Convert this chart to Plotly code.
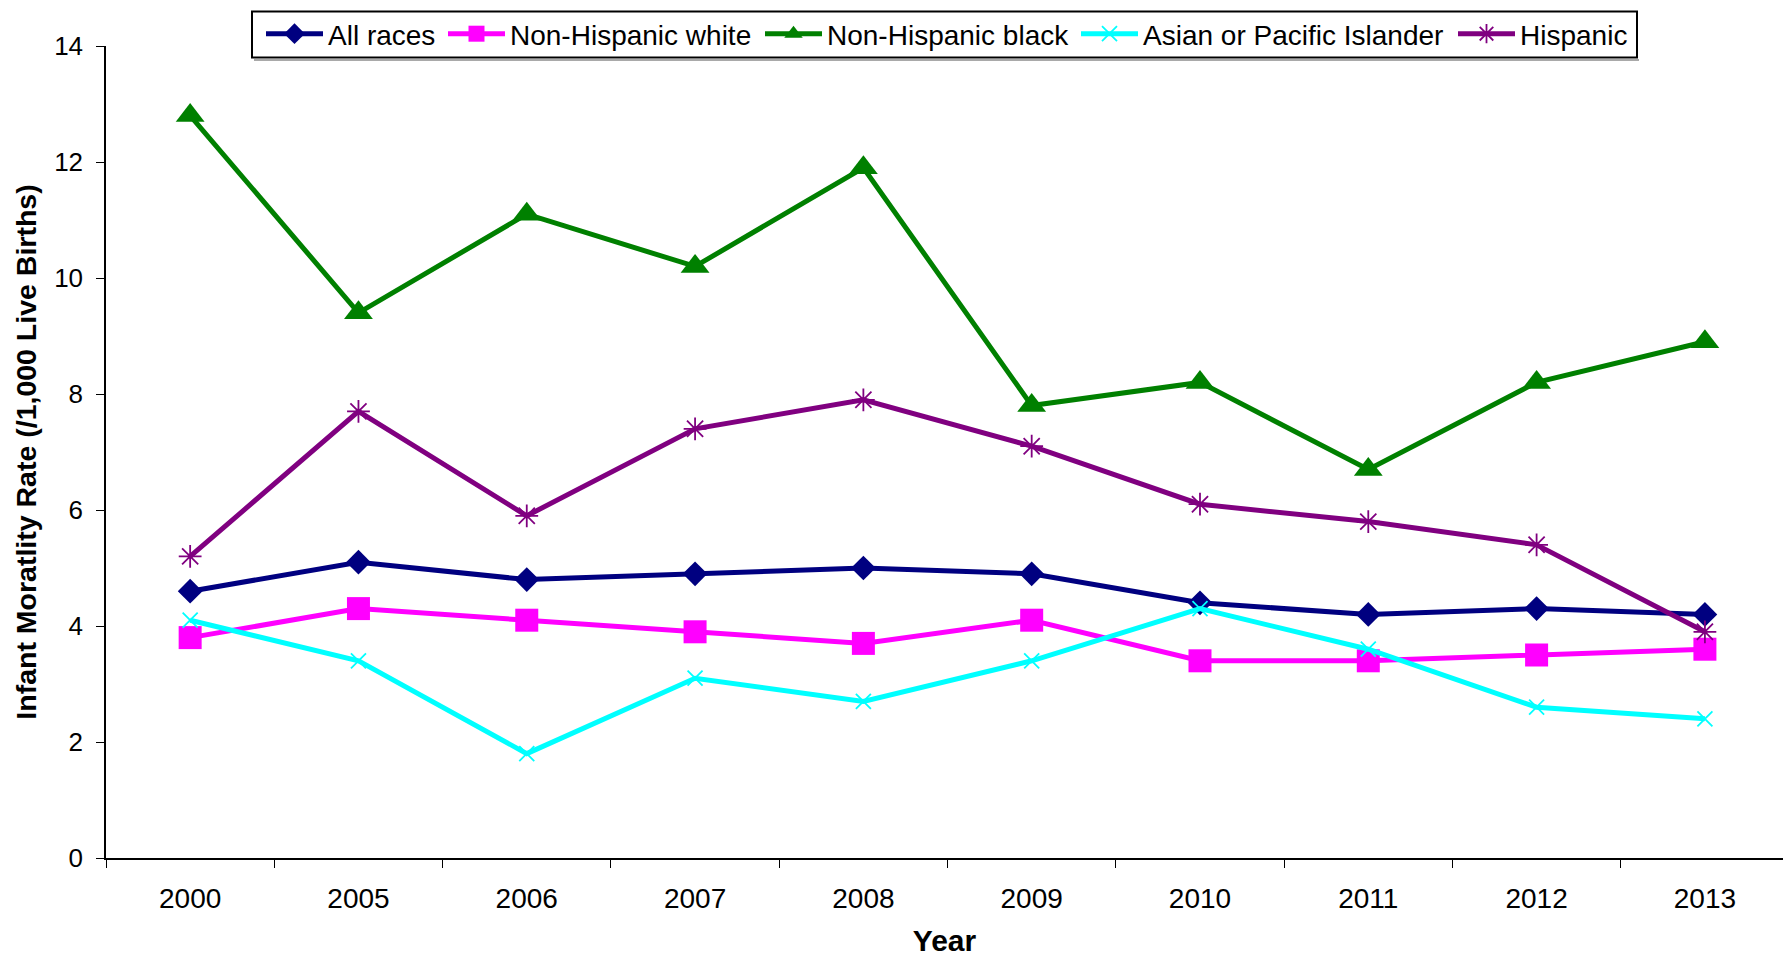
import plotly.graph_objects as go

years = ["2000", "2005", "2006", "2007", "2008", "2009", "2010", "2011", "2012", "2013"]

all_races = [4.6, 5.1, 4.8, 4.9, 5.0, 4.9, 4.4, 4.2, 4.3, 4.2]
nh_white = [3.8, 4.3, 4.1, 3.9, 3.7, 4.1, 3.4, 3.4, 3.5, 3.6]
nh_black = [12.8, 9.4, 11.1, 10.2, 11.9, 7.8, 8.2, 6.7, 8.2, 8.9]
asian_pi = [4.1, 3.4, 1.8, 3.1, 2.7, 3.4, 4.3, 3.6, 2.6, 2.4]
hispanic = [5.2, 7.7, 5.9, 7.4, 7.9, 7.1, 6.1, 5.8, 5.4, 3.9]

W, H = 1783, 957
FONT = "Liberation Sans, Arial, sans-serif"

# name, values, colour, symbol, marker size, marker outline width
series = [
    ("All races", all_races, "#000080", "diamond", 19, 0),
    ("Non-Hispanic white", nh_white, "#FF00FF", "square", 23, 0),
    ("Non-Hispanic black", nh_black, "#008000", "triangle-up", 25, 0),
    ("Asian or Pacific Islander", asian_pi, "#00FFFF", "x-thin-open", 15, 1.8),
    ("Hispanic", hispanic, "#800080", "asterisk-open", 19, 1.8),
]

# left edge (px) of each legend entry inside the legend box
legend_x = [261, 443, 760, 1076, 1453]
legend_ids = ["legend", "legend2", "legend3", "legend4", "legend5"]

fig = go.Figure()
for (name, vals, color, sym, size, lw), lid in zip(series, legend_ids):
    marker = dict(symbol=sym, size=size, color=color)
    marker["line"] = dict(color=color, width=lw) if lw else dict(width=0)
    fig.add_trace(go.Scatter(
        x=years, y=vals, name=name, mode="lines+markers",
        line=dict(color=color, width=5),
        marker=marker, legend=lid,
    ))

left, top, bottom = 106, 45.5, 957 - 858.5

legend_common = dict(
    orientation="h", xref="container", yref="container",
    yanchor="middle", xanchor="left",
    borderwidth=0, bgcolor="rgba(0,0,0,0)", itemwidth=57,
    font=dict(family=FONT, size=28, color="black"),
)
layout_legends = {}
for lid, lx in zip(legend_ids, legend_x):
    layout_legends[lid] = dict(legend_common, x=lx / W, y=1 - 34 / H)

plot_h = H - top - bottom
fig.update_layout(
    width=W, height=H,
    margin=dict(l=left, r=0, t=top, b=bottom, autoexpand=False),
    paper_bgcolor="white", plot_bgcolor="white",
    font=dict(family=FONT, size=28, color="black"),
    showlegend=True,
    xaxis=dict(
        type="category", range=[-0.5, 9.464],
        showline=True, linecolor="black", linewidth=1.5,
        ticks="outside", tickson="boundaries", ticklen=8, tickcolor="black",
        tickwidth=1.2, showgrid=False, zeroline=False,
        tickfont=dict(family=FONT, size=28), ticklabelstandoff=15,
        title=dict(text="<b>Year</b>", font=dict(family=FONT, size=30), standoff=25),
    ),
    yaxis=dict(
        range=[0, 14], dtick=2, tick0=0,
        showline=True, linecolor="black", linewidth=1.5,
        ticks="outside", ticklen=8, tickcolor="black", tickwidth=1.2,
        showgrid=False, zeroline=False,
        tickfont=dict(family=FONT, size=26), ticklabelstandoff=8,
        title=dict(text="<b>Infant Moratlity Rate (/1,000 Live Births)</b>",
                   font=dict(family=FONT, size=28.5), standoff=9),
    ),
    shapes=[
        # legend frame
        dict(
            type="rect", xref="paper", yref="paper", layer="above",
            x0=(252 - left) / (W - left), x1=(1637 - left) / (W - left),
            y0=1 + (top - 57) / plot_h, y1=1 + (top - 11) / plot_h,
            line=dict(color="black", width=2), fillcolor="rgba(0,0,0,0)",
        ),
        # thin shadow under the legend frame
        dict(
            type="line", xref="paper", yref="paper", layer="above",
            x0=(254 - left) / (W - left), x1=(1639 - left) / (W - left),
            y0=1 + (top - 59.5) / plot_h, y1=1 + (top - 59.5) / plot_h,
            line=dict(color="#555555", width=1.2),
        ),
    ],
    **layout_legends,
)

fig.write_html("out.html")
